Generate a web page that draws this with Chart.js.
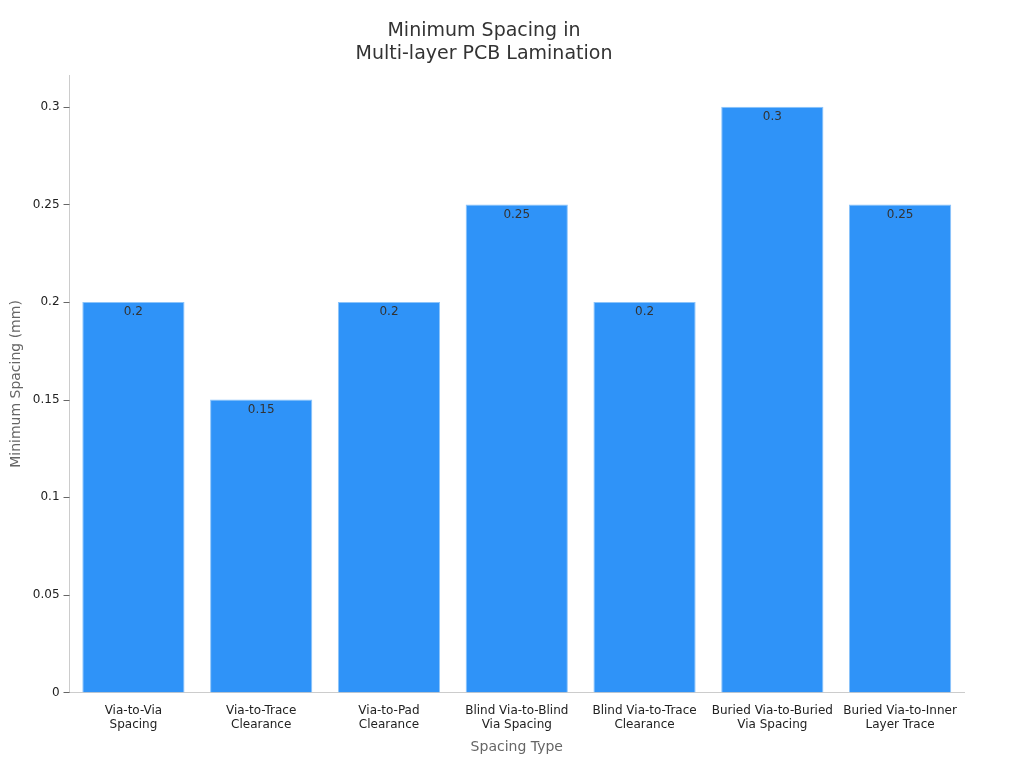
<!DOCTYPE html>
<html><head><meta charset="utf-8">
<script src="https://cdn.jsdelivr.net/npm/chart.js@4/dist/chart.umd.min.js"></script>
<style>html,body{margin:0;background:#fff}#w{width:1024px;height:768px}</style>
</head><body><div id="w"><canvas id="c"></canvas></div>
<script>
const categories = [["Via-to-Via","Spacing"],["Via-to-Trace","Clearance"],["Via-to-Pad","Clearance"],["Blind Via-to-Blind","Via Spacing"],["Blind Via-to-Trace","Clearance"],["Buried Via-to-Buried","Via Spacing"],["Buried Via-to-Inner","Layer Trace"]];
const values = [0.2,0.15,0.2,0.25,0.2,0.3,0.25];
const yTicks = [0,0.05,0.1,0.15,0.2,0.25,0.3];
Chart.defaults.font.family = "'DejaVu Sans', sans-serif";
const labelPlugin = {id:'lbl',afterDatasetsDraw(ch){const ctx=ch.ctx;const m=ch.getDatasetMeta(0);ctx.save();ctx.font="12px 'DejaVu Sans', sans-serif";ctx.fillStyle='#333';ctx.textAlign='center';ctx.textBaseline='top';m.data.forEach((b,i)=>{ctx.fillText(String(values[i]),b.x,b.y+4);});ctx.restore();}};
new Chart(document.getElementById('c'),{type:'bar',
data:{labels:categories,datasets:[{data:values,backgroundColor:'#2f93f8',borderColor:'#8cc4fa',borderWidth:1,barPercentage:0.8,categoryPercentage:1}]},
options:{responsive:true,maintainAspectRatio:false,animation:false,
layout:{padding:{left:4,right:60,top:10,bottom:8}},
plugins:{legend:{display:false},tooltip:{enabled:false},
title:{display:true,text:['Minimum Spacing in','Multi-layer PCB Lamination'],color:'#333',font:{size:19,weight:'normal'},padding:{top:10,bottom:10}}},
scales:{x:{grid:{display:false},border:{color:'#ccc'},ticks:{color:'#222',font:{size:12},maxRotation:0},title:{display:true,text:'Spacing Type',color:'#666',font:{size:14}}},
y:{min:0,max:0.316,grid:{display:false,drawTicks:true,tickLength:6,tickColor:'#666'},border:{color:'#ccc'},afterBuildTicks(a){a.ticks=yTicks.map(v=>({value:v}));},
ticks:{color:'#222',font:{size:12},padding:4,callback:v=>String(v)},title:{display:true,text:'Minimum Spacing (mm)',color:'#666',font:{size:14}}}}},
plugins:[labelPlugin,{id:'yt',afterDraw(ch){const y=ch.scales.y,ctx=ch.ctx;ctx.save();ctx.strokeStyle='#666';ctx.lineWidth=1;yTicks.forEach(v=>{const p=Math.round(y.getPixelForValue(v))+0.5;ctx.beginPath();ctx.moveTo(y.right-6,p);ctx.lineTo(y.right,p);ctx.stroke();});ctx.restore();}}]});
</script></body></html>
